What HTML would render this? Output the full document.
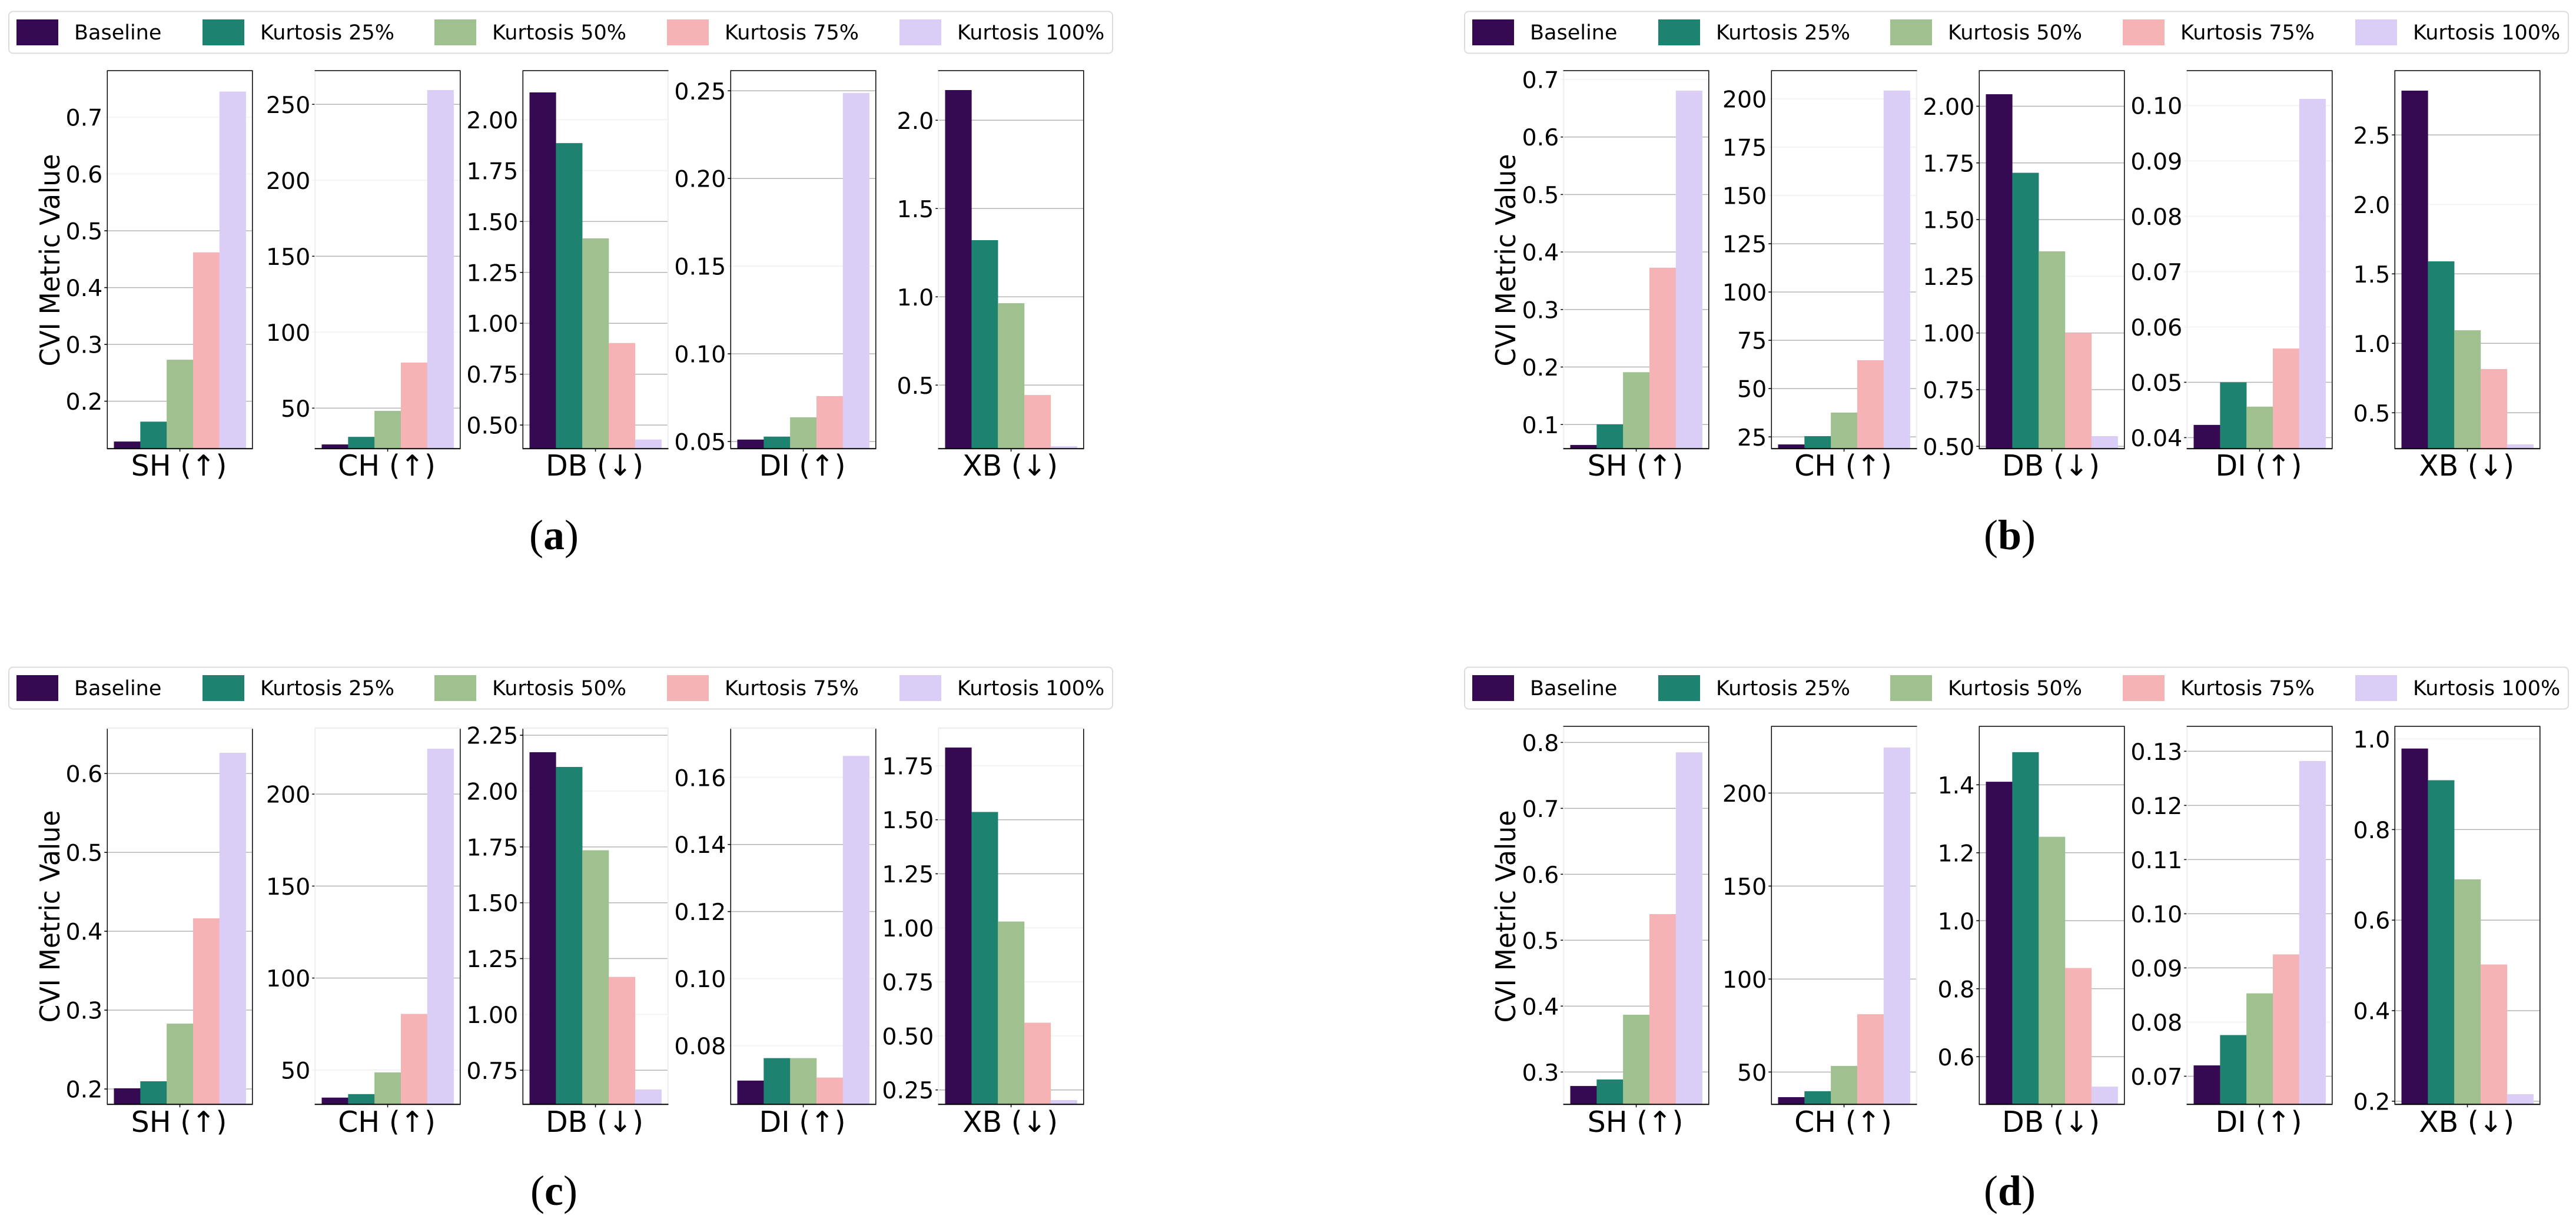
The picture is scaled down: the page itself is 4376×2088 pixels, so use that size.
<!DOCTYPE html>
<html lang="en">
<head>
<meta charset="utf-8">
<title>CVI metric values by kurtosis level</title>
<style>
html,body{margin:0;padding:0;background:#fff;}
body{width:4376px;height:2088px;overflow:hidden;}
svg{display:block;font-family:"DejaVu Sans","Liberation Sans",sans-serif;}
</style>
</head>
<body>
<svg id="figure" xmlns="http://www.w3.org/2000/svg" width="4376" height="2088" viewBox="0 0 4376 2088">
<rect width="4376" height="2088" fill="#fff"/>
<defs>
<clipPath id="clip-row-1"><rect x="0" y="0" width="4376" height="813.5"/></clipPath>
<clipPath id="clip-row-2"><rect x="0" y="1100" width="4376" height="827.5"/></clipPath>
</defs>
<text x="941" y="933" text-anchor="middle" font-family="'Liberation Serif',serif" font-size="72">(<tspan font-weight="bold">a</tspan>)</text>
<text x="3414" y="933" text-anchor="middle" font-family="'Liberation Serif',serif" font-size="72">(<tspan font-weight="bold">b</tspan>)</text>
<text x="941" y="2047" text-anchor="middle" font-family="'Liberation Serif',serif" font-size="72">(<tspan font-weight="bold">c</tspan>)</text>
<text x="3414" y="2047" text-anchor="middle" font-family="'Liberation Serif',serif" font-size="72">(<tspan font-weight="bold">d</tspan>)</text>
</svg>
<script>
// ---- data ----
const categories = ['SH (↑)', 'CH (↑)', 'DB (↓)', 'DI (↑)', 'XB (↓)'];
const seriesNames = ['Baseline', 'Kurtosis 25%', 'Kurtosis 50%', 'Kurtosis 75%', 'Kurtosis 100%'];
const seriesColors = ['#350a53', '#1e8270', '#9fc08f', '#f6b3b5', '#dacef7'];
const yAxisTitle = 'CVI Metric Value';

// Each row is one metric; each column is one series.
const valuesA = [
  [0.129, 0.164, 0.273, 0.462, 0.745],
  [26.1, 31.1, 48.2, 80.0, 259.4],
  [2.134, 1.885, 1.417, 0.903, 0.429],
  [0.0511, 0.0528, 0.0638, 0.0759, 0.2488],
  [2.171, 1.321, 0.964, 0.444, 0.154]
];
const valuesB = [
  [0.0645, 0.1003, 0.191, 0.3727, 0.6806],
  [21.1, 25.4, 37.6, 64.7, 204.3],
  [2.053, 1.7065, 1.36, 1.0, 0.545],
  [0.0423, 0.05, 0.0456, 0.0561, 0.1012],
  [2.819, 1.59, 1.094, 0.815, 0.2725]
];
const valuesC = [
  [0.2009, 0.2098, 0.2829, 0.4164, 0.6263],
  [35.0, 36.9, 48.7, 80.5, 224.7],
  [2.174, 2.108, 1.735, 1.168, 0.664],
  [0.0696, 0.0763, 0.0763, 0.0705, 0.1664],
  [1.834, 1.536, 1.029, 0.561, 0.203]
];
const valuesD = [
  [0.2788, 0.2887, 0.3869, 0.5396, 0.785],
  [36.5, 39.7, 53.3, 81.1, 224.5],
  [1.409, 1.496, 1.247, 0.861, 0.512],
  [0.072, 0.0776, 0.0853, 0.0925, 0.1282],
  [0.979, 0.909, 0.69, 0.502, 0.2156]
];

// Y-axis limits [low, high] in data units.
const limitsA = [[0.1164, 0.7819], [23.3, 272.2], [0.384, 2.241], [0.0459, 0.2615], [0.14, 2.281]];
const limitsB = [[0.058, 0.7154], [18.9, 214.6], [0.4896, 2.157], [0.038, 0.1063], [0.2415, 2.963]];
const limitsC = [[0.1805, 0.6576], [31.3, 235.9], [0.597, 2.282], [0.0625, 0.1747], [0.183, 1.924]];
const limitsD = [[0.2509, 0.8244], [32.6, 235.9], [0.4597, 1.572], [0.0648, 0.1346], [0.193, 1.028]];

// Tick labels.
const ticksA = [
  ['0.2', '0.3', '0.4', '0.5', '0.6', '0.7'],
  ['50', '100', '150', '200', '250'],
  ['0.50', '0.75', '1.00', '1.25', '1.50', '1.75', '2.00'],
  ['0.05', '0.10', '0.15', '0.20', '0.25'],
  ['0.5', '1.0', '1.5', '2.0']
];
const ticksB = [
  ['0.1', '0.2', '0.3', '0.4', '0.5', '0.6', '0.7'],
  ['25', '50', '75', '100', '125', '150', '175', '200'],
  ['0.50', '0.75', '1.00', '1.25', '1.50', '1.75', '2.00'],
  ['0.04', '0.05', '0.06', '0.07', '0.08', '0.09', '0.10'],
  ['0.5', '1.0', '1.5', '2.0', '2.5']
];
const ticksC = [
  ['0.2', '0.3', '0.4', '0.5', '0.6'],
  ['50', '100', '150', '200'],
  ['0.75', '1.00', '1.25', '1.50', '1.75', '2.00', '2.25'],
  ['0.08', '0.10', '0.12', '0.14', '0.16'],
  ['0.25', '0.50', '0.75', '1.00', '1.25', '1.50', '1.75']
];
const ticksD = [
  ['0.3', '0.4', '0.5', '0.6', '0.7', '0.8'],
  ['50', '100', '150', '200'],
  ['0.6', '0.8', '1.0', '1.2', '1.4'],
  ['0.07', '0.08', '0.09', '0.10', '0.11', '0.12', '0.13'],
  ['0.2', '0.4', '0.6', '0.8', '1.0']
];

// Tick labels whose gridlines render very pale in the reference.
const paleTicksA = [['0.7', '0.6'], ['200', '100'], ['2.00', '1.75'], ['0.15'], []];
const paleTicksB = [['0.7'], ['200', '175', '150'], ['1.25'], ['0.10', '0.09', '0.08', '0.07', '0.06'], ['2.0']];
const paleTicksC = [[], ['50'], ['2.00', '1.00'], ['0.16', '0.10', '0.08'], ['1.75', '1.00', '0.75', '0.50']];
const paleTicksD = [[], [], [], ['0.08'], ['1.0']];

// ---- layout ----
const svg = document.getElementById('figure');
const NS = 'http://www.w3.org/2000/svg';
const axisStep = 353;
const axisWidth = 246.5;
const panels = [
  { id: 'a', axisX: 182.3, legendX: 15, top: 120, bottom: 762.3, legendTop: 19.5, titleY: 442, clip: 'clip-row-1', labelY: 808, topPale: false, leftPale: [false, true, false, false, true], rightPale: [false, false, true, false, false], values: valuesA, limits: limitsA, ticks: ticksA, pale: paleTicksA },
  { id: 'b', axisX: 2656.3, legendX: 2488, top: 120, bottom: 762.3, legendTop: 19.5, titleY: 442, clip: 'clip-row-1', labelY: 808, topPale: false, leftPale: [true, false, false, true, false], rightPale: [false, true, false, false, false], values: valuesB, limits: limitsB, ticks: ticksB, pale: paleTicksB },
  { id: 'c', axisX: 182.3, legendX: 15, top: 1237, bottom: 1876.3, legendTop: 1133.5, titleY: 1557, clip: 'clip-row-2', labelY: 1923, topPale: true, leftPale: [false, true, false, false, true], rightPale: [false, false, true, false, false], values: valuesC, limits: limitsC, ticks: ticksC, pale: paleTicksC },
  { id: 'd', axisX: 2656.3, legendX: 2488, top: 1234, bottom: 1876.3, legendTop: 1133.5, titleY: 1557, clip: 'clip-row-2', labelY: 1923, topPale: false, leftPale: [true, false, false, true, false], rightPale: [false, true, false, false, false], values: valuesD, limits: limitsD, ticks: ticksD, pale: paleTicksD }
];
const legendSwatchX = [13, 329, 723, 1118, 1513];
const legendTextX = [111, 427, 821, 1216, 1611];

// ---- helpers ----
function el(tag, attrs, parent) {
  const node = document.createElementNS(NS, tag);
  for (const key in attrs) node.setAttribute(key, attrs[key]);
  parent.appendChild(node);
  return node;
}
function yScale(limits, top, bottom) {
  return function (v) {
    return bottom - (v - limits[0]) / (limits[1] - limits[0]) * (bottom - top);
  };
}
function xBand(left, width, i) {
  const band = width / 1.1 / 5;
  return left + width * (0.05 / 1.1) + band * i;
}
function slug(s) {
  return s.toLowerCase().replace(/[^a-z0-9]+/g, '-').replace(/^-|-$/g, '');
}

// ---- drawing ----
function drawLegend(p) {
  const g = el('g', {}, svg);
  
  
  const frame = el('rect', { x: p.legendX, y: p.legendTop, width: 1875, height: 71, rx: 7, ry: 7, fill: '#fff', stroke: '#dcdcdc', 'stroke-width': 2 }, g);
  
  
  seriesNames.forEach(function (name, i) {
    const swatch = el('rect', { x: p.legendX + legendSwatchX[i], y: p.legendTop + 13.5, width: 71, height: 44, fill: seriesColors[i] }, g);
    
    
    const label = el('text', { x: p.legendX + legendTextX[i], y: p.legendTop + 47.5, 'font-size': 35, fill: '#000' }, g);
    label.textContent = name;
    
    
  });
}

function drawAxes(p, m) {
  const left = p.axisX + axisStep * m;
  const right = left + axisWidth;
  const metric = categories[m];
  const y = yScale(p.limits[m], p.top, p.bottom);
  const g = el('g', {}, svg);
  
  

  // gridlines and ticks
  p.ticks[m].forEach(function (label) {
    const ty = y(parseFloat(label));
    const pale = p.pale[m].indexOf(label) >= 0;
    const grid = el('line', { x1: left - 5, x2: right, y1: ty, y2: ty, stroke: pale ? '#f5f5f5' : '#b4b4b4', 'stroke-width': pale ? 2.4 : 1.5 }, g);
    
    
    if (!pale) {
      const tick = el('line', { x1: left - 5, x2: left, y1: ty, y2: ty, stroke: '#000', 'stroke-width': 1.5 }, g);
      
      
    }
    const text = el('text', { x: left - 8, y: ty + 14.5, 'text-anchor': 'end', 'font-size': 39.5, fill: '#000' }, g);
    text.textContent = label;
    
    
  });

  // bars
  const band = axisWidth / 1.1 / 5;
  p.values[m].forEach(function (v, i) {
    const barTop = y(v);
    const bar = el('rect', { x: xBand(left, axisWidth, i), y: barTop, width: band + 0.3, height: Math.max(0, p.bottom - barTop), fill: seriesColors[i] }, g);
    
    
  });

  // spines
  const paleStroke = '#eeeeee';
  const spineLeft = el('line', { x1: left, x2: left, y1: p.top, y2: p.bottom, stroke: p.leftPale[m] ? paleStroke : '#000', 'stroke-width': p.leftPale[m] ? 2 : 1.5 }, g);
  
  
  const spineRight = el('line', { x1: right, x2: right, y1: p.top, y2: p.bottom, stroke: p.rightPale[m] ? paleStroke : '#000', 'stroke-width': p.rightPale[m] ? 2 : 1.5 }, g);
  
  
  const spineTop = el('line', { x1: left - 0.7, x2: right + 0.7, y1: p.top, y2: p.top, stroke: p.topPale ? paleStroke : '#000', 'stroke-width': p.topPale ? 2.4 : 1.6 }, g);
  
  
  const spineBottom = el('line', { x1: left - 0.7, x2: right + 0.7, y1: p.bottom, y2: p.bottom, stroke: '#000', 'stroke-width': 2 }, g);
  
  

  // x tick and label
  const cx = (left + right) / 2;
  const xTick = el('line', { x1: cx, x2: cx, y1: p.bottom, y2: p.bottom + 5, stroke: '#000', 'stroke-width': 1.5 }, g);
  
  
  const xLabel = el('text', { x: cx - 1.5, y: p.labelY, 'text-anchor': 'middle', 'font-size': 49, fill: '#000', 'clip-path': 'url(#' + p.clip + ')' }, g);
  xLabel.textContent = metric;
  
  
}

function drawTitle(p) {
  const tx = p.legendX + 86;
  const title = el('text', { x: 0, y: 0, transform: 'translate(' + tx + ' ' + p.titleY + ') rotate(-90)', 'text-anchor': 'middle', 'font-size': 46, fill: '#000', textLength: 361, lengthAdjust: 'spacingAndGlyphs' }, svg);
  title.textContent = yAxisTitle;
  
  
}

panels.forEach(function (p) {
  drawLegend(p);
  drawTitle(p);
  categories.forEach(function (_, m) { drawAxes(p, m); });
});
</script>
</body>
</html>
